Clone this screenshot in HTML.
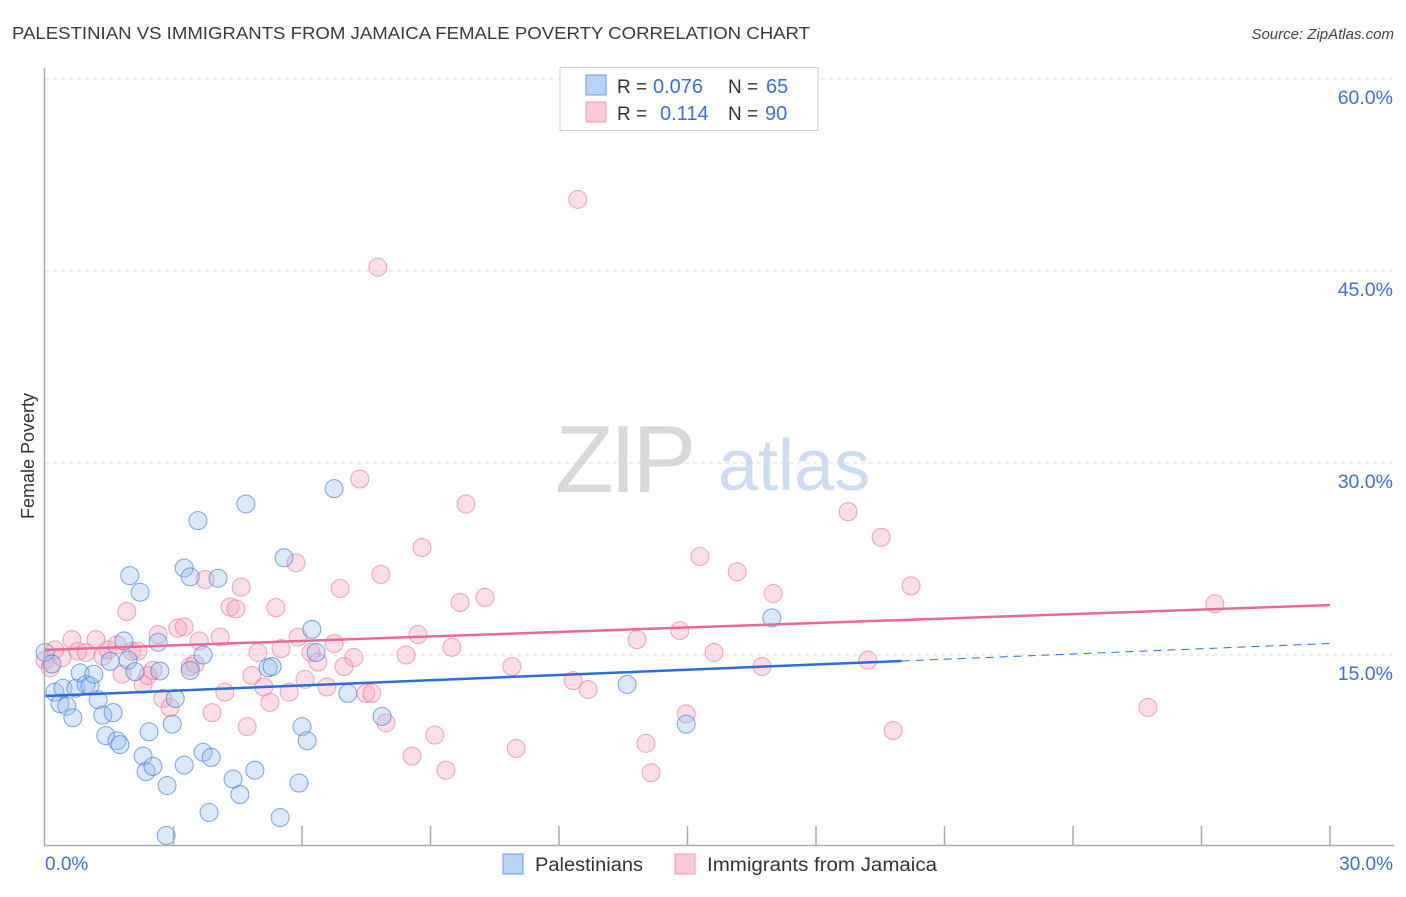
<!DOCTYPE html>
<html><head><meta charset="utf-8"><style>
body{margin:0;background:#fff;font-family:"Liberation Sans",sans-serif;}
svg text{font-family:"Liberation Sans",sans-serif;}
</style></head><body>
<svg id="chart" width="1406" height="892" xmlns="http://www.w3.org/2000/svg">
<text x="12" y="39" font-size="17.5" fill="#3a3a3a" textLength="798" lengthAdjust="spacingAndGlyphs">PALESTINIAN VS IMMIGRANTS FROM JAMAICA FEMALE POVERTY CORRELATION CHART</text>
<text x="1394" y="39" font-size="15" fill="#444" font-style="italic" text-anchor="end">Source: ZipAtlas.com</text>
<g id="grid"></g>
<g>
<text x="555" y="492" font-size="96" fill="#d9d9d9" font-family="Liberation Serif" letter-spacing="-4">ZIP</text>
<text x="718" y="490" font-size="72" fill="#cddcf0">atlas</text>
</g>
<g id="pts"></g>
<g id="lines"></g>
<line x1="44.5" y1="68" x2="44.5" y2="846" stroke="#aaa" stroke-width="1.5"/>
<line x1="44" y1="845.5" x2="1394" y2="845.5" stroke="#aaa" stroke-width="1.5"/>
<g id="xticks"></g>
<g id="ylabels"></g>
<text x="45" y="870" font-size="19" fill="#3d6fd6">0.0%</text>
<text x="1393" y="870" font-size="19" fill="#3d6fd6" text-anchor="end">30.0%</text>
<text transform="translate(34,456) rotate(-90)" font-size="18" fill="#333" text-anchor="middle">Female Poverty</text>
<g>
<rect x="560" y="67.5" width="258" height="63" fill="#fff" stroke="#ccc"/>
<rect x="586" y="75" width="20" height="20" fill="#b8d3f5" stroke="#6b9be0"/>
<rect x="586" y="102" width="20" height="20" fill="#fbc8d6" stroke="#ee9ab3"/>
<text x="617" y="93" font-size="19" fill="#333">R =</text>
<text x="653" y="93" font-size="20" fill="#3d6fd6">0.076</text>
<text x="728" y="93" font-size="19" fill="#333">N =</text>
<text x="766" y="93" font-size="20" fill="#3d6fd6">65</text>
<text x="617" y="120" font-size="19" fill="#333">R =</text>
<text x="660" y="120" font-size="20" fill="#3d6fd6">0.114</text>
<text x="728" y="120" font-size="19" fill="#333">N =</text>
<text x="765" y="120" font-size="20" fill="#3d6fd6">90</text>
</g>
<g>
<rect x="503" y="854" width="20" height="20" fill="#b8d3f5" stroke="#6b9be0"/>
<text x="535" y="871" font-size="19" fill="#333" textLength="108" lengthAdjust="spacingAndGlyphs">Palestinians</text>
<rect x="675" y="854" width="20" height="20" fill="#fbc8d6" stroke="#ee9ab3"/>
<text x="707" y="871" font-size="19" fill="#333" textLength="230" lengthAdjust="spacingAndGlyphs">Immigrants from Jamaica</text>
</g>
</svg>
<script>
const blueX=[0,.16,.23,.35,.42,.51,.65,.72,.82,.96,1.05,1.14,1.24,1.35,1.42,1.52,1.59,1.68,1.75,1.84,1.94,1.98,2.1,2.22,2.29,2.36,2.43,2.52,2.64,2.68,2.85,2.97,3.04,2.83,3.25,3.25,3.39,3.39,3.57,3.69,3.69,3.83,3.88,4.04,4.39,4.55,4.69,4.9,5.21,5.3,5.49,5.58,5.93,6.0,6.12,6.23,6.33,6.75,7.07,7.87,13.59,14.97,16.97];
const blueY=[15.2,14.3,12.1,11.2,12.4,11.0,10.1,12.4,13.6,12.7,12.6,13.5,11.5,10.3,8.7,14.5,10.5,8.3,8.0,16.1,14.6,21.2,13.7,19.9,7.1,5.9,9.0,6.3,16.0,13.75,4.8,9.6,11.6,0.9,21.8,6.4,21.1,13.8,25.5,15.0,7.4,2.7,7.0,21.0,5.3,4.1,26.8,6.0,14.0,14.1,2.3,22.6,5.0,9.4,8.3,17.0,15.2,28.0,12.0,10.2,12.7,9.6,17.9];
const pinkX=[0,.12,.23,.4,.63,.77,.96,1.19,1.35,1.47,1.68,1.8,1.91,2.03,2.17,2.29,2.4,2.52,2.64,2.75,2.92,3.1,3.25,3.39,3.5,3.6,3.74,3.9,4.09,4.2,4.32,4.46,4.58,4.72,4.83,4.97,5.11,5.25,5.39,5.51,5.7,5.86,5.91,6.07,6.21,6.37,6.58,6.75,6.89,6.98,7.21,7.35,7.49,7.63,7.77,7.84,7.96,8.43,8.57,8.71,8.8,9.1,9.36,9.5,9.69,9.83,10.27,10.9,11.0,12.33,12.44,12.68,13.82,14.03,14.15,14.82,14.97,15.29,15.62,16.16,16.74,17.0,18.75,19.21,19.52,19.8,20.22,25.75,27.31];
const pinkY=[14.6,14.0,15.4,14.8,16.2,15.3,15.2,16.2,14.9,15.4,15.8,13.5,18.4,15.3,15.3,12.7,13.4,13.8,16.6,11.6,10.9,17.1,17.2,14.1,14.3,16.1,20.9,10.5,16.4,12.1,18.75,18.6,20.3,9.4,13.4,15.2,12.5,11.3,18.7,15.5,12.1,22.2,16.4,13.1,15.2,14.45,12.5,15.9,20.2,14.1,14.8,28.75,12.0,12.0,45.3,21.3,9.7,15.0,7.1,16.6,23.4,8.75,6.0,15.6,19.1,26.8,19.5,14.1,7.7,13.0,50.6,12.3,16.2,8.1,5.8,16.9,10.4,22.7,15.2,21.5,14.1,19.8,26.2,14.6,24.2,9.1,20.4,10.9,19.0];
const yTicks=[15,30,45,60];
const yTickLabels=["15.0%","30.0%","45.0%","60.0%"];
const xTicks=[3,6,9,12,15,18,21,24,27,30];
const blueTrend=[11.8,15.9];
const pinkTrend=[15.4,18.9];
const blueSolidEnd=20;
const NS="http://www.w3.org/2000/svg";
const sx=v=>45+v/30*1285;
const sy=v=>847-v/15*192;
function mk(tag,attrs,parent){const e=document.createElementNS(NS,tag);for(const k in attrs)e.setAttribute(k,attrs[k]);parent.appendChild(e);return e;}
const grid=document.getElementById('grid'),yl=document.getElementById('ylabels'),xt=document.getElementById('xticks'),pts=document.getElementById('pts'),lines=document.getElementById('lines');
yTicks.forEach((t,i)=>{
 const g=mk('line',{x1:45,x2:1394,y1:sy(t),y2:sy(t),stroke:'#ddd','stroke-dasharray':'4,4'},grid);
 
 
 const tx=mk('text',{x:1393,y:sy(t)+25,'font-size':19.5,fill:'#3d6fd6','text-anchor':'end'},yl);
 tx.textContent=yTickLabels[i];
 
 
});
xTicks.forEach(t=>{
 const l=mk('line',{x1:sx(t),x2:sx(t),y1:826,y2:845,stroke:'#aaa','stroke-width':1.5},xt);
 
 
});
pinkX.forEach((x,i)=>{
 const c=mk('circle',{cx:sx(x),cy:sy(pinkY[i]),r:9,fill:'rgba(246,160,186,0.35)',stroke:'rgba(232,120,155,0.65)','stroke-width':1},pts);
 
 
});
blueX.forEach((x,i)=>{
 const c=mk('circle',{cx:sx(x),cy:sy(blueY[i]),r:9,fill:'rgba(150,190,240,0.35)',stroke:'rgba(60,120,215,0.65)','stroke-width':1},pts);
 
 
});
const bAt=x=>blueTrend[0]+(blueTrend[1]-blueTrend[0])*x/30;
const l1=mk('line',{x1:sx(0),y1:sy(bAt(0)),x2:sx(blueSolidEnd),y2:sy(bAt(blueSolidEnd)),stroke:'#2a6fd6','stroke-width':2.5},lines);


const l2=mk('line',{x1:sx(blueSolidEnd),y1:sy(bAt(blueSolidEnd)),x2:sx(30),y2:sy(bAt(30)),stroke:'#2a6fd6','stroke-width':1,'stroke-dasharray':'8,6'},lines);


const l3=mk('line',{x1:sx(0),y1:sy(pinkTrend[0]),x2:sx(30),y2:sy(pinkTrend[1]),stroke:'#e8689a','stroke-width':2.5},lines);


</script>
</body></html>
